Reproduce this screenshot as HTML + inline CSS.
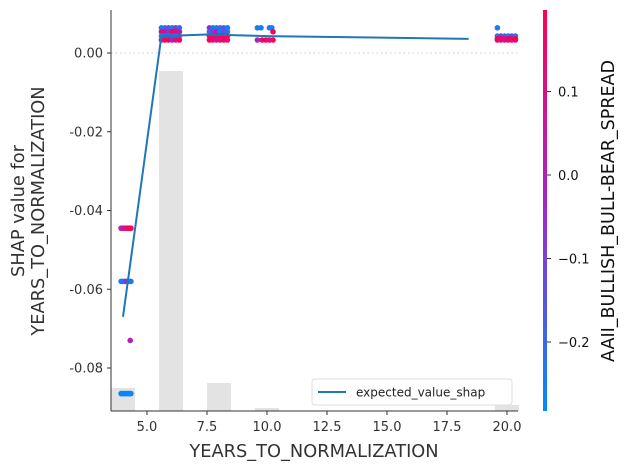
<!DOCTYPE html>
<html><head><meta charset="utf-8"><style>
body{margin:0;background:#fff;}
svg text{font-family:"DejaVu Sans","Liberation Sans",sans-serif;}
</style></head><body>
<svg id="chart" width="628" height="470" xmlns="http://www.w3.org/2000/svg">
<g id="hist"></g>
<line x1="111" x2="518" y1="53" y2="53" stroke="#ccc" stroke-dasharray="1.5,3" stroke-width="1"/>
<g id="pts"></g>
<polyline id="evline" fill="none" stroke="#1f77b4" stroke-width="2"/>
<g id="axes"></g>
<g>
<rect x="312" y="379" width="200" height="26" rx="3" fill="#fff" fill-opacity="0.8" stroke="#ddd"/>
<line x1="318" x2="346" y1="392" y2="392" stroke="#1f77b4" stroke-width="2"/>
<text x="356" y="396.5" font-size="12" fill="#222">expected_value_shap</text>
</g>
<defs><linearGradient id="cg" x1="0" y1="1" x2="0" y2="0">
<stop offset="0" stop-color="#008bfb"/><stop offset="0.5" stop-color="#9f28d0"/><stop offset="1" stop-color="#ff0052"/>
</linearGradient></defs>
<rect x="543" y="10" width="4" height="401" fill="url(#cg)"/>
<g id="cbax"></g>
<text transform="translate(614,211) rotate(-90)" text-anchor="middle" font-size="17.5" fill="#111">AAII_BULLISH_BULL-BEAR_SPREAD</text>
<text x="314" y="457" text-anchor="middle" font-size="17.8" fill="#333">YEARS_TO_NORMALIZATION</text>
<text transform="translate(24,211) rotate(-90)" text-anchor="middle" font-size="17.8" fill="#333"><tspan x="0" dy="0">SHAP value for</tspan><tspan x="0" dy="20">YEARS_TO_NORMALIZATION</tspan></text>
</svg>
<script>
const xTicks=[5,7.5,10,12.5,15,17.5,20];
const yTicks=[0,-0.02,-0.04,-0.06,-0.08];
const cTicks=[0.1,0,-0.1,-0.2];
const histX=[4,6,8,10,20];
const histCount=[23,340,28,3,6];
const lineX=[4,5.6,7.5,10,18.4];
const lineY=[-0.067,0.0043,0.0047,0.0043,0.0036];
const ptX=[3.92,3.98,4.04,4.1,4.16,4.22,4.28,4.33,
 3.92,3.98,4.04,4.1,4.16,4.22,4.28,4.33,
 3.92,3.98,4.04,4.1,4.16,4.22,4.28,4.33,4.3,
 5.6,5.75,5.9,6.05,6.2,6.35,5.6,5.75,5.9,6.05,6.2,6.35,5.6,5.75,5.9,6.05,6.2,6.35,5.6,5.75,5.9,6.05,6.2,6.35,
 7.6,7.75,7.9,8.05,8.2,8.35,7.6,7.75,7.9,8.05,8.2,8.35,7.6,7.75,7.9,8.05,8.2,8.35,7.6,7.75,7.9,8.05,8.2,8.35,
 9.6,9.75,10.1,10.2,10.25,9.6,9.8,9.95,10.1,10.25,
 19.6,19.6,19.75,19.9,20.05,20.2,20.35,19.6,19.75,19.9,20.05,20.2,20.35,19.6,19.75,19.9,20.05,20.2,20.35];
const ptY=[-0.0445,-0.0445,-0.0445,-0.0445,-0.0445,-0.0445,-0.0445,-0.0445,
 -0.058,-0.058,-0.058,-0.058,-0.058,-0.058,-0.058,-0.058,
 -0.0865,-0.0865,-0.0865,-0.0865,-0.0865,-0.0865,-0.0865,-0.0865,-0.073,
 0.0064,0.0064,0.0064,0.0064,0.0064,0.0064,0.0054,0.0054,0.0054,0.0054,0.0054,0.0054,0.0043,0.0043,0.0043,0.0043,0.0043,0.0043,0.0033,0.0033,0.0033,0.0033,0.0033,0.0033,
 0.0064,0.0064,0.0064,0.0064,0.0064,0.0064,0.0054,0.0054,0.0054,0.0054,0.0054,0.0054,0.0043,0.0043,0.0043,0.0043,0.0043,0.0043,0.0033,0.0033,0.0033,0.0033,0.0033,0.0033,
 0.0064,0.0064,0.0064,0.0064,0.0054,0.0033,0.0033,0.0033,0.0033,0.0033,
 0.0064,0.0043,0.0043,0.0043,0.0043,0.0043,0.0043,0.0033,0.0033,0.0033,0.0033,0.0033,0.0033,0.0036,0.0036,0.0036,0.0036,0.0036,0.0036];
const ptC=[0.02,0.03,0.06,0.08,0.12,0.15,0.18,0.19,
 -0.26,-0.25,-0.22,-0.15,-0.05,-0.12,-0.22,-0.24,
 -0.27,-0.26,-0.27,-0.25,-0.26,-0.27,-0.26,-0.27,0.0,
 -0.25,-0.2,-0.15,-0.22,-0.1,-0.2,0.15,0.1,-0.05,0.18,0.12,0.05,-0.25,-0.22,-0.24,-0.2,-0.25,-0.15,0.05,0.15,0.18,0.0,0.12,0.18,
 -0.05,-0.22,-0.24,-0.2,-0.15,-0.25,-0.2,-0.1,0.05,-0.25,-0.15,-0.2,0.15,0.18,0.12,0.18,0.15,0.18,0.18,0.15,0.1,0.12,0.18,0.15,
 -0.25,-0.25,-0.25,-0.25,0.18,0.0,0.15,0.18,0.12,0.18,
 -0.25,-0.25,-0.1,-0.2,-0.25,-0.15,-0.25,0.05,0.1,0.0,0.18,0.12,0.05,0.18,0.15,0.12,0.18,0.15,0.18];
const NS='http://www.w3.org/2000/svg';
const sx=v=>111+(v-3.5)*24;
const sy=v=>53-v/0.02*78.75;
const sc=v=>175-v*835;
function mk(t,a,p){const e=document.createElementNS(NS,t);for(const k in a)e.setAttribute(k,a[k]);p.appendChild(e);return e;}
function col(v){let t=(v+0.283)/0.48;t=Math.max(0,Math.min(1,t));
 const A=[0,139,251],B=[159,40,208],C=[255,0,82];let a,b,u;
 if(t<0.5){a=A;b=B;u=t/0.5;}else{a=B;b=C;u=(t-0.5)/0.5;}
 return 'rgb('+a.map((x,i)=>Math.round(x+(b[i]-x)*u)).join(',')+')';}
const hist=document.getElementById('hist');
histX.forEach((x,i)=>{const r=mk('rect',{x:sx(x-0.5),y:411-histCount[i],width:24,height:histCount[i],fill:'#e3e3e3'},hist);
 
 });
const pts=document.getElementById('pts');
ptX.forEach((x,i)=>{const c=mk('circle',{cx:sx(x),cy:sy(ptY[i]),r:2.8,fill:col(ptC[i])},pts);
 
 });
document.getElementById('evline').setAttribute('points',lineX.map((x,i)=>sx(x)+','+sy(lineY[i])).join(' '));
const ax=document.getElementById('axes');
mk('line',{x1:111,x2:111,y1:10,y2:411,stroke:'#333','stroke-width':1},ax);
mk('line',{x1:111,x2:518,y1:411,y2:411,stroke:'#333','stroke-width':1},ax);
xTicks.forEach(v=>{const x=sx(v);mk('line',{x1:x,x2:x,y1:411,y2:415,stroke:'#333'},ax);
 const t=mk('text',{x:x,y:431,'text-anchor':'middle','font-size':'13',fill:'#333'},ax);t.textContent=v.toFixed(1);
 
 });
yTicks.forEach(v=>{const y=sy(v);mk('line',{x1:107,x2:111,y1:y,y2:y,stroke:'#333'},ax);
 const t=mk('text',{x:103,y:y+4.5,'text-anchor':'end','font-size':'13',fill:'#333'},ax);t.textContent=v.toFixed(2);
 
 });
const cb=document.getElementById('cbax');
cTicks.forEach(v=>{const y=sc(v);mk('line',{x1:547,x2:551,y1:y,y2:y,stroke:'#333'},cb);
 const t=mk('text',{x:558,y:y+5,'font-size':'13',fill:'#111'},cb);t.textContent=(v<0?'\u2212':'')+Math.abs(v).toFixed(1);
 
 });
</script>
</body></html>
